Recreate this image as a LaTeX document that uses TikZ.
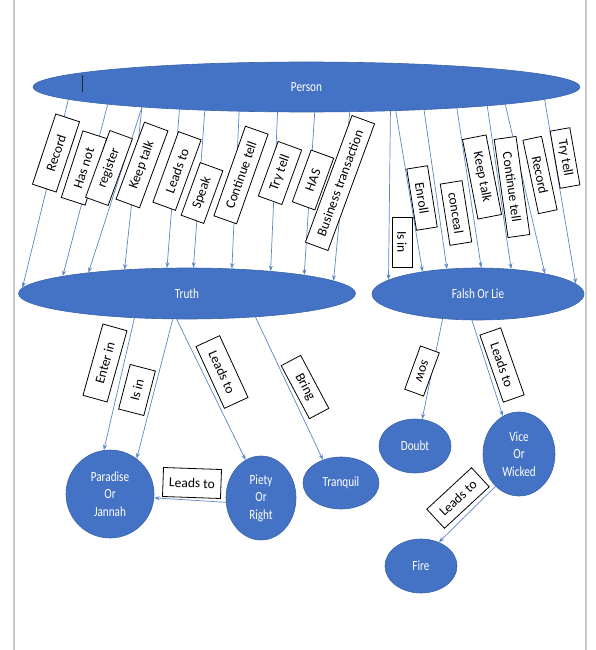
\documentclass[tikz,border=0pt]{standalone}
\usepackage{fontspec}
\usetikzlibrary{shapes.geometric,arrows.meta}
\newfontfamily\bubblefamily[FakeStretch=0.8]{Carlito}
\newfontfamily\labelfamily{Carlito}
\definecolor{bubblefill}{HTML}{4472C4}
\definecolor{bubbleedge}{HTML}{3A64AD}
\definecolor{linkblue}{HTML}{5B86C9}
\definecolor{pagerule}{HTML}{C9C9C9}

\begin{document}
\begin{tikzpicture}[x=1pt,y=-1pt,
  blob/.style={ellipse, fill=bubblefill, draw=bubbleedge, line width=0.6pt,
    inner sep=0pt, text=white, align=center,
    font=\bubblefamily\fontsize{14}{17.5}\selectfont},
  tagbox/.style={draw=black, fill=white, line width=0.8pt, inner sep=0pt,
    minimum height=23pt, font=\labelfamily\fontsize{13.5}{16}\selectfont},
  link/.style={draw=linkblue, line width=0.7pt, -{Stealth[length=5.5pt,width=4pt]}}]
\useasboundingbox (0,0) rectangle (595,650);

% page rules
\draw[pagerule, line width=1.5pt] (14,0) -- (14,650);
\draw[pagerule, line width=1.5pt] (586,0) -- (586,650);

% concepts
\node[blob, minimum width=547, minimum height=50] (person) at (306.5,87) {Person};
\node[blob, minimum width=337, minimum height=51] (truth) at (187,293.5) {Truth};
\node[blob, minimum width=212, minimum height=52] (falsh) at (478,294) {Falsh Or Lie};
\node[blob, minimum width=88, minimum height=88] (paradise) at (110,494) {Paradise\\Or\\Jannah};
\node[blob, minimum width=70, minimum height=84] (piety) at (261,498) {Piety\\Or\\Right};
\node[blob, minimum width=76, minimum height=52] (tranquil) at (341,483) {Tranquil};
\node[blob, minimum width=72, minimum height=54] (doubt) at (415,446) {Doubt};
\node[blob, minimum width=72, minimum height=84] (vice) at (519,454) {Vice\\Or\\Wicked};
\node[blob, minimum width=72, minimum height=54] (fire) at (421,566) {Fire};

% text cursor mark inside Person
\draw[black!85, line width=1pt] (82,75) -- (82,92);

% Person -> Truth
\draw[link] (person.183.9) -- (truth.178.2);
\draw[link] (person.185.3) -- (truth.172.9);
\draw[link] (person.187.1) -- (truth.168.2);
\draw[link] (person.187.1) -- (truth.159.1);
\draw[link] (person.190.0) -- (truth.128.3);
\draw[link] (person.193.5) -- (truth.76.8);
\draw[link] (person.200.9) -- (truth.29.9);
\draw[link] (person.221.1) -- (truth.15.4);
\draw[link] (person.288.8) -- (truth.9.8);
\draw[link] (person.330.4) -- (truth.5.4);

% Person -> Falsh Or Lie
\draw[link] (person.344.1) -- (falsh.171.3);
\draw[link] (person.345.4) -- (falsh.158.5);
\draw[link] (person.349.6) -- (falsh.141.2);
\draw[link] (person.352.1) -- (falsh.83.4);
\draw[link] (person.354.05) -- (falsh.37.8);
\draw[link] (person.355.65) -- (falsh.17.9);
\draw[link] (person.357.2) -- (falsh.6.9);

% lower links
\draw[link] (truth.205) -- (paradise.98.8);
\draw[link] (truth.241.1) -- (paradise.53.8);
\draw[link] (truth.248.6) -- (piety.112.7);
\draw[link] (truth.341.1) -- (tranquil.128);
\draw[link] (piety.187.9) -- (paradise.355);
\draw[link] (falsh.215) -- (doubt.75);
\draw[link] (falsh.257) -- (vice.113.6);
\draw[link] (vice.234) -- (fire.53.1);

% labels towards Truth
\node[tagbox, rotate=71.6, minimum width=74, minimum height=25] (l1) at (56,153) {Record};
\node[tagbox, rotate=72, minimum width=70, minimum height=25] (l2) at (84,168) {Has not};
\node[tagbox, rotate=70, minimum width=71, minimum height=24] (l3) at (109,168) {register};
\node[tagbox, rotate=69.7, minimum width=82, minimum height=25] (l4) at (142,165) {Keep talk};
\node[tagbox, rotate=70, minimum width=75, minimum height=24] (l5) at (177,171) {Leads to};
\node[tagbox, rotate=70, minimum width=56, minimum height=24] (l6) at (202,193) {Speak};
\node[tagbox, rotate=70.6, minimum width=95, minimum height=24] (l7) at (241,175) {Continue tell};
\node[tagbox, rotate=70, minimum width=58, minimum height=25] (l8) at (280,173) {Try tell};
\node[tagbox, rotate=70, minimum width=55, minimum height=24] (l9) at (313,180) {HAS};
\node[tagbox, rotate=69.8, minimum width=135, minimum height=24] (l10) at (340,183) {Business transaction};

% labels towards Falsh Or Lie
\node[tagbox, rotate=-90, minimum width=50, minimum height=20] (r1) at (402,242) {Is in};
\node[tagbox, rotate=-81, minimum width=62, minimum height=21] (r2) at (422,198) {Enroll};
\node[tagbox, rotate=-81, minimum width=62, minimum height=22] (r3) at (456,213) {conceal};
\node[tagbox, rotate=-79, minimum width=81, minimum height=24] (r4) at (482,177) {Keep talk};
\node[tagbox, rotate=-82, minimum width=99, minimum height=22] (r5) at (512,187) {Continue tell};
\node[tagbox, rotate=-78, minimum width=75, minimum height=19] (r6) at (540,175) {Record};
\node[tagbox, rotate=-80, minimum width=58, minimum height=20] (r7) at (565,158) {Try tell};

% lower labels
\node[tagbox, rotate=74.4, minimum width=74, minimum height=25] (b1) at (105,363) {Enter in};
\node[tagbox, rotate=75.5, minimum width=46, minimum height=26] (b2) at (137,390) {Is in};
\node[tagbox, rotate=-65.3, minimum width=68, minimum height=26] (b3) at (222,372) {Leads to};
\node[tagbox, rotate=-62, minimum width=60, minimum height=22] (b4) at (305,387) {Bring};
\node[tagbox, rotate=-2, minimum width=58, minimum height=29] (b5) at (192,483) {Leads to};
\node[tagbox, rotate=-110, minimum width=46, minimum height=20] (b6) at (422,371) {sow};
\node[tagbox, rotate=-70.7, minimum width=71, minimum height=22] (b7) at (502,365) {Leads to};
\node[tagbox, rotate=42.8, minimum width=61, minimum height=26] (b8) at (458,498) {Leads to};
\end{tikzpicture}
\end{document}
